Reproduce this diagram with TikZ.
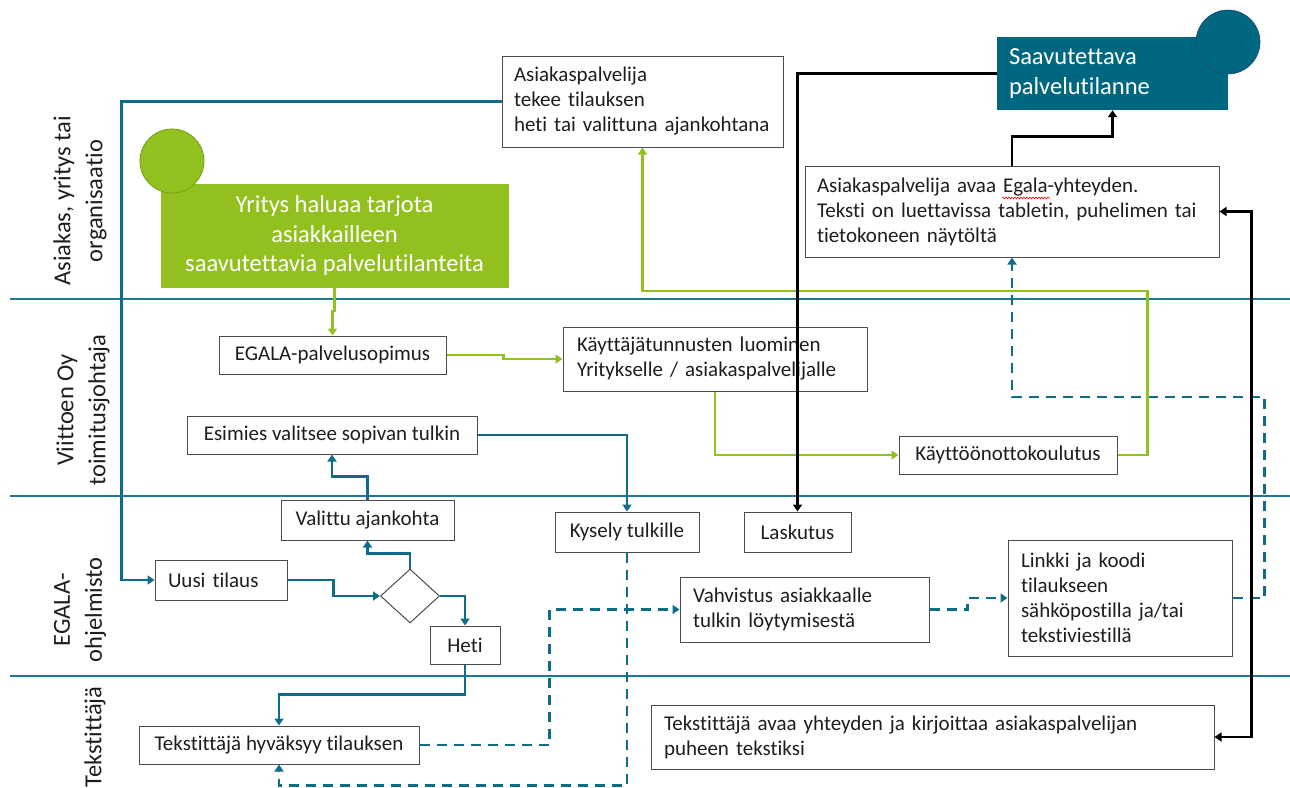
\documentclass[tikz,border=0pt]{standalone}
\usepackage{fontspec}
\setmainfont[Ligatures={NoCommon}]{Carlito}
\usetikzlibrary{arrows.meta,shapes.geometric,decorations.pathmorphing,calc}
\definecolor{lanec}{RGB}{28,122,152}
\definecolor{cblue}{RGB}{14,110,138}
\definecolor{cgreen}{RGB}{146,192,31}
\definecolor{dgreen}{RGB}{118,158,28}
\definecolor{cteal}{RGB}{0,103,128}
\definecolor{txt}{RGB}{30,30,30}
\begin{document}
\begin{tikzpicture}[x=1pt,y=-1pt,
  box/.style={draw=black!70, fill=white, line width=1pt, inner sep=0pt, text=txt, font=\fontsize{21}{25}\selectfont},
  lbox/.style={box, align=left},
  tip/.style={-{Triangle[width=9pt,length=7pt]}},
  bl/.style={draw=cblue, line width=2.2pt, tip},
  gr/.style={draw=cgreen, line width=2.3pt, tip},
  bk/.style={draw=black, line width=2.2pt, tip},
  dsh/.style={draw=cblue, line width=2.2pt, dash pattern=on 10pt off 7pt, tip},
  laneline/.style={draw=lanec, line width=2.2pt},
  lab/.style={rotate=90, align=center, text=txt, font=\fontsize{24.5}{32}\selectfont}]
\useasboundingbox (0,0) rectangle (1290,787);
% lane separators
\draw[laneline] (10,299) -- (1290,299);
\draw[laneline] (10,496) -- (1290,496);
\draw[laneline] (10,676) -- (1290,676);
% lane labels
\node[lab] (l1) at (80,201) {Asiakas, yritys tai\\organisaatio};
\node[lab] (l2) at (83,410) {Viittoen Oy\\toimitusjohtaja};
\node[lab] (l3) at (80,610) {EGALA-\\ohjelmisto};
\node[lab] (l4) at (95,737) {Tekstittäjä};
% boxes
\node[draw=cgreen, fill=cgreen, inner sep=0pt, minimum width=347pt, minimum height=103pt, align=center, text=white, font=\fontsize{24.5}{29.5}\selectfont] (grn) at (334.5,235.5) {Yritys haluaa tarjota\\asiakkailleen\\saavutettavia palvelutilanteita};
\node[circle, fill=cgreen, draw=dgreen, line width=0.8pt, minimum size=64pt, inner sep=0pt] (gc) at (172,161) {};
\node[fill=cteal, inner sep=0pt, minimum width=231pt, minimum height=73pt, text width=207pt, align=left, text=white, font=\fontsize{24.5}{30}\selectfont] (saav) at (1112.5,73.5) {Saavutettava\\palvelutilanne};
\node[circle, fill=cteal, draw=cteal!70!violet, line width=0.6pt, minimum size=64pt, inner sep=0pt] (tc) at (1228,42) {};
\node[lbox, minimum width=281pt, minimum height=91pt, text width=257pt] (asp) at (642.5,101.5) {Asiakaspalvelija\\tekee tilauksen\\heti tai valittuna ajankohtana};
\node[lbox, minimum width=414pt, minimum height=91pt, text width=390pt] (avaa) at (1012,211.5) {Asiakaspalvelija avaa Egala-yhteyden.\\Teksti on luettavissa tabletin, puhelimen tai\\tietokoneen näytöltä};
\node[box, minimum width=227pt, minimum height=38pt] (egala) at (332.5,355) {EGALA-palvelusopimus};
\node[lbox, minimum width=304pt, minimum height=64pt, text width=276pt] (kayt) at (715,359) {Käyttäjätunnusten luominen\\Yritykselle / asiakaspalvelijalle};
\node[box, minimum width=218pt, minimum height=38pt] (kaytto) at (1008,455) {Käyttöönottokoulutus};
\node[box, minimum width=290pt, minimum height=38pt] (esim) at (332,435) {Esimies valitsee sopivan tulkin};
\node[box, minimum width=173pt, minimum height=40pt] (valittu) at (367.5,520) {Valittu ajankohta};
\node[box, minimum width=144pt, minimum height=40pt] (kysely) at (627,532) {Kysely tulkille};
\node[box, minimum width=107pt, minimum height=40pt] (lasku) at (797.5,532) {Laskutus};
\node[lbox, minimum width=132pt, minimum height=40pt, text width=106pt] (uusi) at (221,580) {Uusi tilaus};
\node[box, minimum width=70pt, minimum height=38pt] (heti) at (465,645) {Heti};
\node[draw=black!70, fill=white, line width=1pt, diamond, inner sep=0pt, minimum width=59pt, minimum height=54pt] (dia) at (410,596) {};
\node[lbox, minimum width=249pt, minimum height=65pt, text width=223pt] (vahv) at (804.5,609.5) {Vahvistus asiakkaalle\\tulkin löytymisestä};
\node[lbox, minimum width=224pt, minimum height=116pt, text width=198pt] (linkki) at (1120,598) {Linkki ja koodi\\tilaukseen\\sähköpostilla ja/tai\\tekstiviestillä};
\node[box, minimum width=280pt, minimum height=38pt] (hyvak) at (279,745) {Tekstittäjä hyväksyy tilauksen};
\node[lbox, minimum width=563pt, minimum height=64pt, text width=537pt] (tavaa) at (932.5,737) {Tekstittäjä avaa yhteyden ja kirjoittaa asiakaspalvelijan\\puheen tekstiksi};
% spell-check squiggle
\draw[red, line width=0.6pt, decorate, decoration={snake, amplitude=0.9pt, segment length=3pt}] (1002,198) -- (1050,198);
% blue connectors
\draw[bl] (asp.west) -| ($(uusi.west)+(-33,0)$) -- (uusi.west);
\draw[bl] (esim.east) -| (kysely.north);
\draw[bl] (valittu.north) -- ++(0,-23) -| (esim.south);
\draw[bl] (uusi.east) -- ++(46,0) |- (dia.west);
\draw[bl] (dia.north) -- ++(0,-15) -| (valittu.south);
\draw[bl] (dia.east) -| (heti.north);
\draw[bl] (heti.south) -- ++(0,30) -| (hyvak.north);
% dashed connectors
\draw[dsh] (hyvak.east) -- ++(130,0) |- (vahv.west);
\draw[dsh] (kysely.south) -- ++(0,233) -| (hyvak.south);
\draw[dsh] (vahv.east) -- ++(38,0) |- (linkki.west);
\draw[dsh] (linkki.east) -- ++(32,0) -- ++(0,-201) -| (avaa.south);
% green connectors
\draw[gr] (grn.south) -- ++(0,24) -| (egala.north);
\draw[gr] (egala.east) -- ++(57,0) |- (kayt.west);
\draw[gr] (kayt.south) |- (kaytto.west);
\draw[gr] (kaytto.east) -- ++(30,0) -- ++(0,-164) -| (asp.south);
% black connectors
\draw[bk] (saav.west) -| (lasku.north);
\draw[bk] (avaa.north) -- ++(0,-29) -| (saav.south);
\draw[bk, {Triangle[width=9pt,length=7pt]}-{Triangle[width=9pt,length=7pt]}] (avaa.east) -- ++(32,0) |- (tavaa.east);
\end{tikzpicture}
\end{document}
